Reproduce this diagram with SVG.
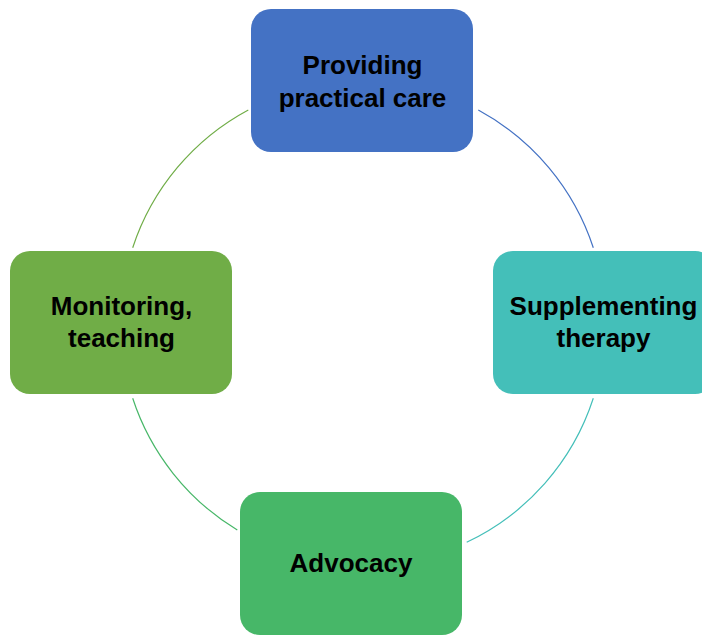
<svg xmlns="http://www.w3.org/2000/svg" width="702" height="635" viewBox="0 0 702 635">
<style>
.lbl{font-family:"Liberation Sans",Arial,sans-serif;font-weight:bold;font-size:26px;fill:#000;text-anchor:middle}
.arc{fill:none;stroke-width:1.2}
</style>
<rect width="702" height="635" fill="#fff"/>
<g id="connectors">
<path class="arc" stroke="#4472C4" d="M478.3,110 A242,242 0 0 1 593.3,247.7"/>
<path class="arc" stroke="#44BFB9" d="M593.3,398.3 A242,242 0 0 1 466.7,542.3"/>
<path class="arc" stroke="#47B768" d="M237.3,530 A242,242 0 0 1 132.7,398.3"/>
<path class="arc" stroke="#70AD47" d="M132.7,247.7 A242,242 0 0 1 248.3,110"/>
</g>
<g id="node-care">
<rect x="251" y="9" width="222" height="143" rx="20" fill="#4472C4"/>
<text class="lbl" x="362.5" y="74">Providing</text>
<text class="lbl" x="362.5" y="106.5">practical care</text>
</g>
<g id="node-therapy">
<rect x="493" y="251" width="222" height="143" rx="20" fill="#44BFB9"/>
<text class="lbl" x="603.5" y="314.5">Supplementing</text>
<text class="lbl" x="603.5" y="347">therapy</text>
</g>
<g id="node-advocacy">
<rect x="240" y="492" width="222" height="143" rx="20" fill="#47B768"/>
<text class="lbl" x="351" y="571.5">Advocacy</text>
</g>
<g id="node-monitoring">
<rect x="10" y="251" width="222" height="143" rx="20" fill="#70AD47"/>
<text class="lbl" x="121.5" y="314.5">Monitoring,</text>
<text class="lbl" x="121.5" y="347">teaching</text>
</g>
</svg>
